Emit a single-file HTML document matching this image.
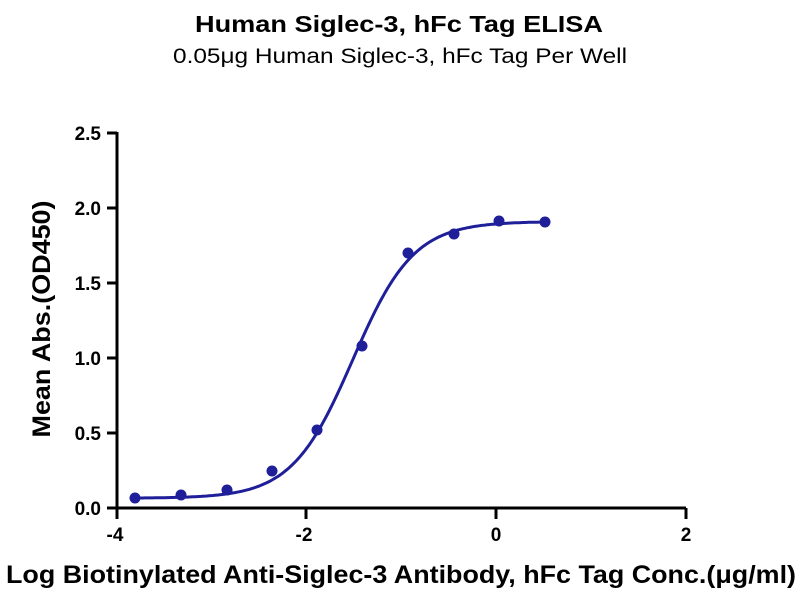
<!DOCTYPE html>
<html><head><meta charset="utf-8"><style>
body{margin:0;background:#fff;width:800px;height:600px;overflow:hidden;font-family:"Liberation Sans",sans-serif}
</style></head><body>
<svg id="s" width="800" height="600" xmlns="http://www.w3.org/2000/svg" font-family="Liberation Sans, sans-serif">
<text x="399" y="32" text-anchor="middle" font-size="23" font-weight="bold" textLength="408" lengthAdjust="spacingAndGlyphs">Human Siglec-3, hFc Tag ELISA</text>
<text x="400" y="63" text-anchor="middle" font-size="21" textLength="454" lengthAdjust="spacingAndGlyphs">0.05μg Human Siglec-3, hFc Tag Per Well</text>
<g stroke="#000" stroke-width="3" fill="none">
<line x1="117" y1="132" x2="117" y2="509"/>
<line x1="116" y1="508" x2="686" y2="508"/>
<line x1="107" y1="508" x2="117" y2="508"/><line x1="107" y1="433" x2="117" y2="433"/><line x1="107" y1="358" x2="117" y2="358"/><line x1="107" y1="283" x2="117" y2="283"/><line x1="107" y1="208" x2="117" y2="208"/><line x1="107" y1="133" x2="117" y2="133"/>
<line x1="117" y1="508" x2="117" y2="519"/><line x1="306" y1="508" x2="306" y2="519"/><line x1="496" y1="508" x2="496" y2="519"/><line x1="686" y1="508" x2="686" y2="519"/>
</g>
<g font-size="19" font-weight="bold" text-anchor="end">
<text x="101" y="515">0.0</text><text x="101" y="440">0.5</text><text x="101" y="365">1.0</text><text x="101" y="290">1.5</text><text x="101" y="215">2.0</text><text x="101" y="140">2.5</text>
</g>
<g font-size="19" font-weight="bold" text-anchor="middle">
<text x="115" y="541">-4</text><text x="304" y="541">-2</text><text x="496" y="541">0</text><text x="686" y="541">2</text>
</g>
<text x="401" y="583" text-anchor="middle" font-size="25" font-weight="bold" textLength="790" lengthAdjust="spacingAndGlyphs">Log Biotinylated Anti-Siglec-3 Antibody, hFc Tag Conc.(μg/ml)</text>
<text transform="translate(50,319) rotate(-90)" text-anchor="middle" font-size="25" font-weight="bold" textLength="237" lengthAdjust="spacingAndGlyphs">Mean Abs.(OD450)</text>
<path id="c" fill="none" stroke="#1f1f9a" stroke-width="3"/>
<g fill="#1f1f9a">
<circle cx="135" cy="498" r="5.5"/><circle cx="181" cy="495" r="5.5"/><circle cx="227" cy="490" r="5.5"/><circle cx="272" cy="471" r="5.5"/><circle cx="317" cy="430" r="5.5"/><circle cx="362" cy="346" r="5.5"/><circle cx="408" cy="253" r="5.5"/><circle cx="454" cy="234" r="5.5"/><circle cx="499" cy="221" r="5.5"/><circle cx="545" cy="222" r="5.5"/>
</g>
</svg>
<script>
var d="";for(var px=135;px<=545;px+=2){var x=-4+(px-117)/94.67;var y=0.065+1.845/(1+Math.pow(10,(-1.51-x)*1.35));d+=(d?"L":"M")+px+","+(508-150*y).toFixed(1);}
document.getElementById("c").setAttribute("d",d);
</script>
</body></html>
